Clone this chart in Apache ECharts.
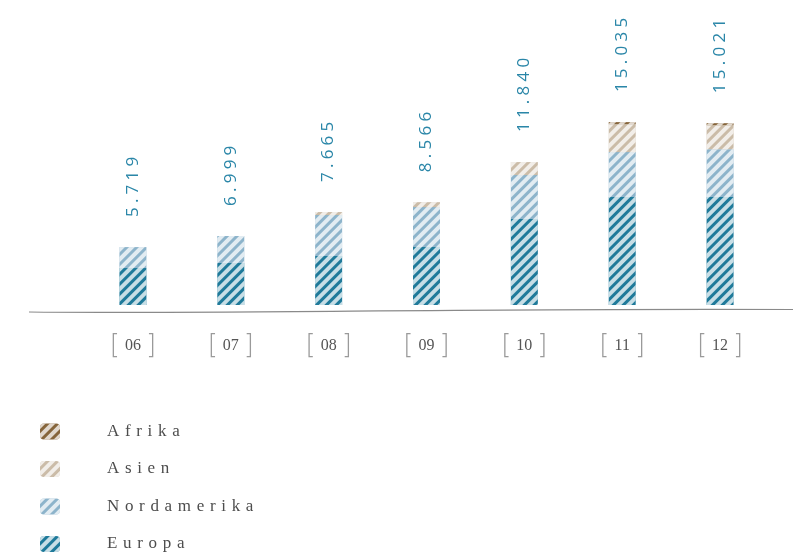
<!DOCTYPE html>
<html>
<head>
<meta charset="utf-8">
<script src="https://cdn.jsdelivr.net/npm/echarts@6/dist/echarts.min.js"></script>
<style>
  html, body { margin: 0; padding: 0; background: #fff; }
  #chartRegion { width: 795px; height: 556px; }
</style>
</head>
<body>
<div id="chartRegion"></div>
<script>
  // jahre (x-achse)
  var years = ['06', '07', '08', '09', '10', '11', '12'];
  // summen, wie sie über den balken stehen
  var totals = ['5.719', '6.999', '7.665', '8.566', '11.840', '15.035', '15.021'];
  // gestapelte anteile (tausend)
  var europa      = [3.07, 3.49, 4.07, 4.81, 7.14, 8.96, 8.96];
  var nordamerika = [1.74, 2.24, 3.40, 3.32, 3.65, 3.74, 3.98];
  var asien       = [0,    0,    0.25, 0.41, 1.08, 2.32, 1.99];
  var afrika      = [0,    0,    0,    0,    0,    0.17, 0.17];

  var colors = {
    Europa: '#1f7a9a',
    Nordamerika: '#8db4cb',
    Asien: '#cbbca8',
    Afrika: '#86653b'
  };

  function spaced(str, sep) {
    return str.split('').join(sep);
  }

  function hatch() {
    return {
      symbol: 'rect',
      symbolSize: 1,
      dashArrayX: [[1, 0]],
      dashArrayY: [4, 3],
      rotation: -Math.PI / 4,
      color: 'rgba(255,255,255,0.75)'
    };
  }

  function makeSeries(name, data) {
    return {
      name: name,
      type: 'bar',
      stack: 'total',
      barWidth: 27,
      data: data,
      animation: false,
      itemStyle: {
        color: colors[name],
        borderWidth: 0,
        decal: hatch()
      }
    };
  }

  var series = [
    makeSeries('Europa', europa),
    makeSeries('Nordamerika', nordamerika),
    makeSeries('Asien', asien),
    makeSeries('Afrika', afrika)
  ];
  // summenbeschriftung am obersten stapel
  series[3].label = {
    show: true,
    position: 'top',
    distance: 30,
    rotate: 90,
    align: 'left',
    verticalAlign: 'middle',
    color: '#2a86a8',
    fontSize: 17,
    fontFamily: 'Open Sans',
    formatter: function (p) {
      return spaced(totals[p.dataIndex], '\u2005');
    }
  };

  var chart = echarts.init(document.getElementById('chartRegion'));
  chart.setOption({
    backgroundColor: '#ffffff',
    legend: {
      orient: 'vertical',
      left: 40,
      top: 423,
      height: 133,
      padding: 0,
      itemWidth: 20,
      itemHeight: 16,
      itemGap: 20.5,
      data: ['Afrika', 'Asien', 'Nordamerika', 'Europa'],
      textStyle: {
        color: '#4d4d4d',
        fontSize: 17,
        lineHeight: 16,
        fontFamily: 'Liberation Serif',
        padding: [0, 0, 0, 42]
      },
      formatter: function (name) {
        return spaced(name, '\u2004');
      }
    },
    grid: {
      left: 84,
      right: 26,
      top: 10,
      bottom: 251
    },
    xAxis: {
      type: 'category',
      data: years,
      axisLine: { show: false },
      axisTick: { show: false },
      axisLabel: {
        margin: 28,
        formatter: function (v) {
          return '{b|[}{n|' + v + '}{b|]}';
        },
        rich: {
          b: { color: '#9a9a9a', fontSize: 26, fontFamily: 'DejaVu Sans', fontWeight: 'lighter' },
          n: { color: '#555', fontSize: 16, fontFamily: 'Liberation Serif', padding: [0, 5, 0, 5] }
        }
      }
    },
    yAxis: {
      type: 'value',
      min: 0,
      max: 24.5,
      show: false,
      splitLine: { show: false }
    },
    graphic: [
      {
        type: 'bezierCurve',
        shape: { x1: 29, y1: 312, cpx1: 200, cpy1: 314, cpx2: 500, cpy2: 308, x2: 793, y2: 309.5 },
        style: { stroke: '#8a8a8a', lineWidth: 1.2, fill: null }
      }
    ],
    series: series
  });
</script>
</body>
</html>
